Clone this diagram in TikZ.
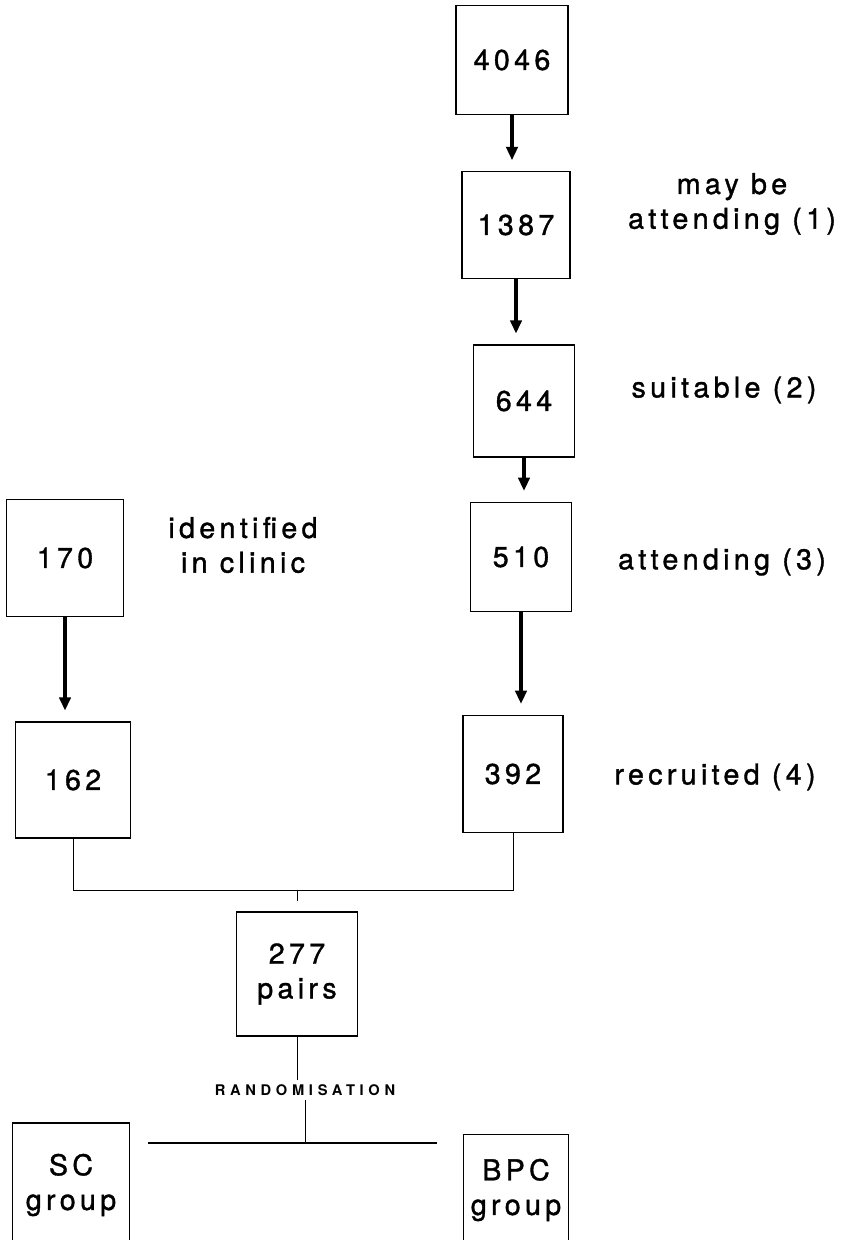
\documentclass[tikz,border=0pt]{standalone}
\usepackage{fontspec}
\setmainfont{TeX Gyre Heros}[LetterSpace=15,FakeBold=1.2]
\newfontfamily\randfont{TeX Gyre Heros}[LetterSpace=32]
\usetikzlibrary{arrows.meta}
\begin{document}
\begin{tikzpicture}[
		x=0.75pt,y=-0.75pt,
		every node/.style={font=\fontsize{21.5}{26}\selectfont},
		box/.style 2 args={draw,line width=1.1pt,minimum width=#1,minimum height=#2,inner sep=0pt,align=center},
		flow/.style={-{Triangle[length=10pt,width=8.5pt]},line width=2.8pt,shorten >=8pt},
		link/.style={line width=0.7pt}
	]
	\useasboundingbox (0,0) rectangle (854,1240);
	\node[box={84pt}{82pt}] (n4046) at (512,60) {4046};
	\node[box={81pt}{80pt}] (n1387) at (516,225) {1387};
	\node[box={76pt}{84pt}] (n644) at (524,401) {644};
	\node[box={76pt}{82pt}] (n510) at (521,557) {510};
	\node[box={75pt}{88pt}] (n392) at (513,774) {392};
	\node[box={88pt}{88pt}] (n170) at (65,558) {170};
	\node[box={86pt}{87pt}] (n162) at (73,780) {162};
	\node[box={91pt}{93pt}] (n277) at (297,974) {277\\pairs};
	\node[box={88pt}{93pt}] (sc) at (71,1185) {SC\\group};
	\node[box={79pt}{83pt}] (bpc) at (516,1190) {BPC\\group};

	\node[align=center] (may) at (732,204) {may be\\attending (1)};
	\node (suit) at (724,390) {suitable (2)};
	\node (att) at (722,562) {attending (3)};
	\node (rec) at (715,777) {recruited (4)};
	\node[align=center] (ident) at (243,545) {identified\\in clinic};
	\node[font=\randfont\bfseries\fontsize{11}{13}\selectfont] (rand) at (305,1090) {RANDOMISATION};

	\draw[flow] (n4046.south) -- (n4046.south |- n1387.north);
	\draw[flow] (n1387.south) -- (n1387.south |- n644.north);
	\draw[flow] (n644.south) -- (n644.south |- n510.north);
	\draw[flow] (n510.south) -- (n510.south |- n392.north);
	\draw[flow] (n170.south) -- (n170.south |- n162.north);

	\coordinate (join) at (297,890);
	\coordinate (split) at (298,1143);
	\coordinate (sl) at (148,1143);
	\coordinate (sr) at (437,1143);
	\draw[link] (n162.south) |- (join) -| (n392.south);
	\draw[link,shorten >=7.5pt] (join) -- (join |- n277.north);
	\draw[link] (n277.south) -- (n277.south |- rand.north);
	\draw[link] (rand.south) -- (rand.south |- split);
	\draw[line width=1.3pt] (sl) -- (sr);
\end{tikzpicture}
\end{document}
